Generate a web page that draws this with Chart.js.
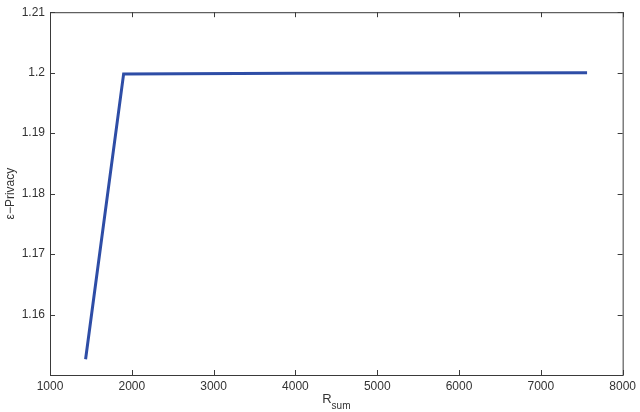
<!DOCTYPE html>
<html><head><meta charset="utf-8">
<script src="https://cdn.jsdelivr.net/npm/chart.js@4/dist/chart.umd.min.js"></script>
<style>html,body{margin:0;padding:0;background:#fff}#wrap{width:640px;height:412px}</style>
</head><body><div id="wrap"><canvas id="c"></canvas></div>
<script>
const rsum = [1435, 1900, 4000, 7565];
const privacy = [1.1526, 1.1998, 1.1999, 1.2000];
const xTicks = [1000, 2000, 3000, 4000, 5000, 6000, 7000, 8000];
const yTicks = [1.15, 1.16, 1.17, 1.18, 1.19, 1.2, 1.21];
const yTickLabels = ['', '1.16', '1.17', '1.18', '1.19', '1.2', '1.21'];

const FONT = '"Liberation Sans", Arial, sans-serif';
const AXIS = '#3a3a3a';

const boxPlugin = {
  id: 'box',
  afterDraw(chart) {
    const {ctx, chartArea: a, scales: {x, y}} = chart;
    ctx.save();
    ctx.strokeStyle = AXIS;
    ctx.lineWidth = 1;
    ctx.strokeRect(a.left + 0.5, a.top + 0.5, a.right - a.left, a.bottom - a.top);
    const L = 5;
    ctx.beginPath();
    xTicks.forEach(v => {
      const px = Math.round(x.getPixelForValue(v)) + 0.5;
      ctx.moveTo(px, a.bottom); ctx.lineTo(px, a.bottom - L);
      ctx.moveTo(px, a.top); ctx.lineTo(px, a.top + L);
    });
    yTicks.forEach(v => {
      const py = Math.round(y.getPixelForValue(v)) + 0.5;
      ctx.moveTo(a.left, py); ctx.lineTo(a.left + L, py);
      ctx.moveTo(a.right, py); ctx.lineTo(a.right - L, py);
    });
    ctx.stroke();
    // x title with subscript
    ctx.fillStyle = '#333';
    ctx.textBaseline = 'alphabetic';
    ctx.font = '13px ' + FONT;
    const cx = (a.left + a.right) / 2;
    const rW = ctx.measureText('R').width;
    ctx.font = '10px ' + FONT;
    const sW = ctx.measureText('sum').width;
    const start = cx - (rW + sW) / 2;
    ctx.font = '13px ' + FONT;
    ctx.textAlign = 'left';
    ctx.fillText('R', start, 403);
    ctx.font = '10px ' + FONT;
    ctx.fillText('sum', start + rW, 409);
    // y title
    ctx.font = '12px ' + FONT;
    ctx.translate(11, (a.top + a.bottom) / 2);
    ctx.rotate(-Math.PI / 2);
    ctx.textAlign = 'center';
    ctx.textBaseline = 'middle';
    ctx.fillText('ε−Privacy', 0, 0);
    ctx.restore();
  }
};

new Chart(document.getElementById('c'), {
  type: 'line',
  data: {
    datasets: [{
      data: rsum.map((v, i) => ({x: v, y: privacy[i]})),
      borderColor: '#2e4da6',
      borderWidth: 3,
      pointRadius: 0,
      tension: 0,
      fill: false
    }]
  },
  options: {
    responsive: true,
    maintainAspectRatio: false,
    animation: false,
    layout: {padding: {top: 5, right: 16, left: 0, bottom: 0}},
    plugins: {legend: {display: false}, tooltip: {enabled: false}},
    scales: {
      x: {
        type: 'linear', min: 1000, max: 8000,
        afterFit(s) { s.height = 37; },
        afterBuildTicks(s) { s.ticks = xTicks.map(v => ({value: v})); },
        grid: {display: false, drawTicks: false},
        border: {display: false},
        ticks: {color: '#333', font: {size: 12, family: FONT}, padding: 4, maxRotation: 0,
          callback: v => String(v)}
      },
      y: {
        type: 'linear', min: 1.15, max: 1.21,
        afterFit(s) { s.width = 50; },
        afterBuildTicks(s) { s.ticks = yTicks.map(v => ({value: v})); },
        grid: {display: false, drawTicks: false},
        border: {display: false},
        ticks: {color: '#333', font: {size: 12, family: FONT}, padding: 5,
          callback: (v) => { const i = yTicks.findIndex(t => Math.abs(t - v) < 1e-9); return i >= 0 ? yTickLabels[i] : ''; }}
      }
    }
  },
  plugins: [boxPlugin]
});
</script></body></html>
